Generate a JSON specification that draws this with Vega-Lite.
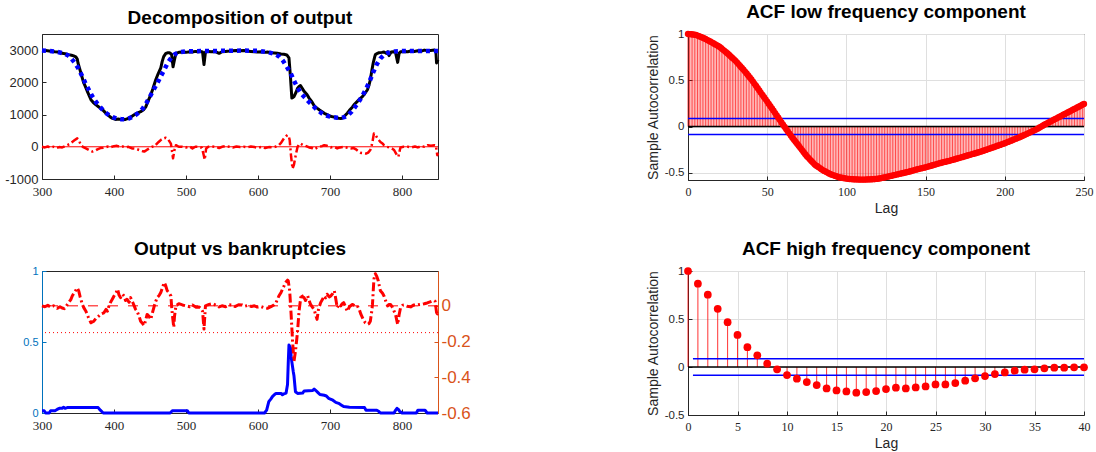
{
  "$schema": "https://vega.github.io/schema/vega-lite/v6.json",
  "padding": {"left": 4, "top": 2, "right": 5, "bottom": 5},
  "background": "white",
  "columns": 2,
  "spacing": {"row": 91, "column": 250},
  "bounds": "flush",
  "config": {
    "font": "Liberation Sans",
    "view": {"stroke": "#262626", "strokeWidth": 1},
    "axis": {"domainColor": "#262626", "tickColor": "#262626", "labelColor": "#262626", "titleColor": "#262626", "tickSize": -4, "grid": false, "labelOverlap": false, "labelFlush": false, "titleFontWeight": "normal", "titleFont": "Liberation Sans", "titleFontSize": 14, "titlePadding": 4, "labelExpr": "replace(datum.label, '\u2212', '-')"},
    "axisX": {"labelFont": "Liberation Serif", "labelFontSize": 13, "labelPadding": 10},
    "axisY": {"labelFont": "Liberation Sans", "labelFontSize": 12, "labelPadding": 8},
    "title": {"font": "Liberation Sans", "fontSize": 19, "fontWeight": "bold", "color": "#000000", "offset": 6}
  },
  "datasets": {
    "output": [
      {"t":300,"v":2990},{"t":305,"v":2985},{"t":310,"v":2975},{"t":314,"v":2960},{"t":318,"v":2950},{"t":322,"v":2945},{"t":326,"v":2920},{"t":328,"v":2900},{"t":332,"v":2890},{"t":337,"v":2860},{"t":341,"v":2840},{"t":344,"v":2820},{"t":347,"v":2790},{"t":349,"v":2720},{"t":350,"v":2600},{"t":352,"v":2450},{"t":354,"v":2290},{"t":356,"v":2130},{"t":358,"v":1980},{"t":360,"v":1880},{"t":363,"v":1720},{"t":366,"v":1560},{"t":368,"v":1460},{"t":371,"v":1380},{"t":375,"v":1300},{"t":378,"v":1250},{"t":381,"v":1200},{"t":385,"v":1130},{"t":388,"v":1060},{"t":391,"v":1000},{"t":395,"v":920},{"t":398,"v":880},{"t":402,"v":850},{"t":406,"v":860},{"t":409,"v":850},{"t":413,"v":845},{"t":416,"v":850},{"t":420,"v":880},{"t":423,"v":920},{"t":427,"v":980},{"t":430,"v":1020},{"t":434,"v":1060},{"t":437,"v":1090},{"t":441,"v":1150},{"t":444,"v":1230},{"t":447,"v":1400},{"t":451,"v":1610},{"t":454,"v":1800},{"t":458,"v":2080},{"t":461,"v":2250},{"t":465,"v":2450},{"t":467,"v":2650},{"t":469,"v":2800},{"t":472,"v":2900},{"t":475,"v":2920},{"t":477,"v":2920},{"t":480,"v":2870},{"t":482,"v":2480},{"t":484,"v":2700},{"t":486,"v":2900},{"t":490,"v":2930},{"t":495,"v":2940},{"t":500,"v":2930},{"t":505,"v":2950},{"t":509,"v":2940},{"t":513,"v":2960},{"t":517,"v":2950},{"t":520,"v":2960},{"t":523,"v":2940},{"t":525,"v":2550},{"t":527,"v":2940},{"t":531,"v":2960},{"t":535,"v":2950},{"t":540,"v":2960},{"t":546,"v":2900},{"t":550,"v":2950},{"t":555,"v":2960},{"t":560,"v":2970},{"t":564,"v":2980},{"t":570,"v":2990},{"t":575,"v":2980},{"t":580,"v":2990},{"t":585,"v":2970},{"t":590,"v":2960},{"t":595,"v":2950},{"t":599,"v":2940},{"t":605,"v":2950},{"t":610,"v":2930},{"t":613,"v":2940},{"t":618,"v":2920},{"t":623,"v":2910},{"t":627,"v":2900},{"t":632,"v":2880},{"t":636,"v":2870},{"t":640,"v":2850},{"t":643,"v":2760},{"t":645,"v":2190},{"t":647,"v":1510},{"t":649,"v":1540},{"t":650,"v":1560},{"t":653,"v":1700},{"t":655,"v":1820},{"t":657,"v":1870},{"t":659,"v":1900},{"t":661,"v":1830},{"t":664,"v":1720},{"t":668,"v":1620},{"t":671,"v":1510},{"t":675,"v":1390},{"t":678,"v":1270},{"t":682,"v":1200},{"t":685,"v":1150},{"t":689,"v":1090},{"t":692,"v":1040},{"t":696,"v":1000},{"t":699,"v":960},{"t":702,"v":940},{"t":706,"v":920},{"t":709,"v":900},{"t":712,"v":885},{"t":715,"v":880},{"t":717,"v":885},{"t":720,"v":950},{"t":724,"v":1040},{"t":727,"v":1130},{"t":731,"v":1230},{"t":734,"v":1320},{"t":738,"v":1410},{"t":741,"v":1480},{"t":745,"v":1560},{"t":748,"v":1640},{"t":752,"v":1770},{"t":754,"v":1900},{"t":756,"v":2080},{"t":758,"v":2350},{"t":760,"v":2600},{"t":762,"v":2780},{"t":763,"v":2860},{"t":766,"v":2900},{"t":768,"v":2920},{"t":772,"v":2930},{"t":775,"v":2940},{"t":778,"v":2900},{"t":780,"v":2950},{"t":782,"v":2830},{"t":785,"v":2940},{"t":788,"v":2950},{"t":791,"v":2930},{"t":794,"v":2620},{"t":796,"v":2900},{"t":798,"v":2950},{"t":803,"v":2960},{"t":808,"v":2950},{"t":812,"v":2970},{"t":817,"v":2960},{"t":822,"v":2980},{"t":826,"v":2960},{"t":831,"v":3000},{"t":836,"v":2980},{"t":840,"v":2990},{"t":845,"v":3000},{"t":847,"v":2980},{"t":848,"v":2600},{"t":850,"v":2700}
    ],
    "trend": [
      {"t":300,"v":2990},{"t":310,"v":2975},{"t":320,"v":2950},{"t":330,"v":2900},{"t":336,"v":2840},{"t":340,"v":2760},{"t":345,"v":2620},{"t":350,"v":2450},{"t":355,"v":2230},{"t":360,"v":1990},{"t":365,"v":1770},{"t":370,"v":1560},{"t":375,"v":1390},{"t":380,"v":1250},{"t":385,"v":1130},{"t":390,"v":1030},{"t":395,"v":955},{"t":400,"v":905},{"t":405,"v":870},{"t":410,"v":855},{"t":415,"v":855},{"t":420,"v":875},{"t":425,"v":920},{"t":430,"v":985},{"t":435,"v":1070},{"t":440,"v":1190},{"t":445,"v":1360},{"t":450,"v":1560},{"t":455,"v":1770},{"t":460,"v":1970},{"t":465,"v":2190},{"t":470,"v":2400},{"t":475,"v":2620},{"t":480,"v":2780},{"t":485,"v":2880},{"t":490,"v":2930},{"t":500,"v":2960},{"t":520,"v":2970},{"t":540,"v":2975},{"t":560,"v":2980},{"t":580,"v":2985},{"t":600,"v":2980},{"t":610,"v":2950},{"t":615,"v":2930},{"t":620,"v":2900},{"t":625,"v":2860},{"t":630,"v":2790},{"t":635,"v":2660},{"t":640,"v":2480},{"t":645,"v":2300},{"t":650,"v":2050},{"t":655,"v":1830},{"t":660,"v":1650},{"t":665,"v":1530},{"t":670,"v":1410},{"t":675,"v":1300},{"t":680,"v":1190},{"t":685,"v":1100},{"t":690,"v":1020},{"t":695,"v":970},{"t":700,"v":935},{"t":705,"v":915},{"t":710,"v":900},{"t":715,"v":895},{"t":720,"v":920},{"t":725,"v":980},{"t":730,"v":1090},{"t":735,"v":1240},{"t":740,"v":1400},{"t":745,"v":1580},{"t":750,"v":1790},{"t":755,"v":2030},{"t":760,"v":2310},{"t":765,"v":2560},{"t":770,"v":2740},{"t":775,"v":2850},{"t":780,"v":2910},{"t":785,"v":2940},{"t":790,"v":2960},{"t":800,"v":2970},{"t":820,"v":2975},{"t":850,"v":2975}
    ],
    "cycle": [
      {"t":300,"v":0},{"t":304,"v":-20},{"t":308,"v":10},{"t":312,"v":-30},{"t":316,"v":0},{"t":320,"v":-40},{"t":324,"v":-10},{"t":328,"v":-20},{"t":332,"v":20},{"t":335,"v":50},{"t":338,"v":80},{"t":342,"v":150},{"t":345,"v":200},{"t":349,"v":260},{"t":351,"v":220},{"t":354,"v":50},{"t":358,"v":-20},{"t":361,"v":-50},{"t":365,"v":-100},{"t":370,"v":-150},{"t":374,"v":-120},{"t":377,"v":-80},{"t":381,"v":-40},{"t":385,"v":-30},{"t":388,"v":-20},{"t":392,"v":10},{"t":396,"v":-10},{"t":400,"v":20},{"t":404,"v":30},{"t":408,"v":0},{"t":412,"v":10},{"t":416,"v":-20},{"t":420,"v":0},{"t":425,"v":-50},{"t":430,"v":-60},{"t":435,"v":-100},{"t":439,"v":-130},{"t":442,"v":-150},{"t":446,"v":-90},{"t":449,"v":-50},{"t":453,"v":0},{"t":456,"v":10},{"t":459,"v":80},{"t":462,"v":150},{"t":466,"v":230},{"t":469,"v":260},{"t":472,"v":280},{"t":475,"v":240},{"t":479,"v":100},{"t":481,"v":-200},{"t":482,"v":-360},{"t":484,"v":-100},{"t":486,"v":50},{"t":490,"v":0},{"t":495,"v":0},{"t":500,"v":-20},{"t":505,"v":10},{"t":509,"v":-50},{"t":513,"v":0},{"t":518,"v":0},{"t":522,"v":-30},{"t":524,"v":-200},{"t":526,"v":-400},{"t":528,"v":-50},{"t":531,"v":0},{"t":536,"v":10},{"t":541,"v":0},{"t":546,"v":-40},{"t":550,"v":0},{"t":555,"v":20},{"t":560,"v":0},{"t":565,"v":-20},{"t":570,"v":10},{"t":575,"v":-10},{"t":580,"v":0},{"t":585,"v":-20},{"t":590,"v":10},{"t":595,"v":-10},{"t":600,"v":-30},{"t":605,"v":0},{"t":610,"v":-40},{"t":615,"v":-10},{"t":620,"v":-20},{"t":624,"v":0},{"t":629,"v":50},{"t":632,"v":120},{"t":636,"v":260},{"t":639,"v":330},{"t":641,"v":365},{"t":643,"v":300},{"t":644,"v":210},{"t":646,"v":-310},{"t":648,"v":-680},{"t":650,"v":-550},{"t":651,"v":-420},{"t":653,"v":-200},{"t":655,"v":0},{"t":657,"v":80},{"t":659,"v":100},{"t":662,"v":60},{"t":664,"v":50},{"t":667,"v":20},{"t":671,"v":-20},{"t":675,"v":-40},{"t":678,"v":-80},{"t":682,"v":-30},{"t":685,"v":0},{"t":689,"v":20},{"t":692,"v":50},{"t":696,"v":30},{"t":701,"v":-20},{"t":705,"v":0},{"t":710,"v":-50},{"t":714,"v":-20},{"t":719,"v":0},{"t":724,"v":-30},{"t":729,"v":-50},{"t":733,"v":-40},{"t":736,"v":-80},{"t":740,"v":-150},{"t":743,"v":-190},{"t":747,"v":-200},{"t":750,"v":-210},{"t":753,"v":-180},{"t":756,"v":-100},{"t":758,"v":50},{"t":759,"v":150},{"t":761,"v":415},{"t":763,"v":380},{"t":766,"v":260},{"t":770,"v":150},{"t":773,"v":100},{"t":775,"v":50},{"t":779,"v":0},{"t":782,"v":-20},{"t":786,"v":-50},{"t":789,"v":-100},{"t":791,"v":-180},{"t":793,"v":-260},{"t":795,"v":-310},{"t":797,"v":-100},{"t":798,"v":-20},{"t":802,"v":0},{"t":808,"v":0},{"t":813,"v":-20},{"t":818,"v":10},{"t":822,"v":-20},{"t":827,"v":20},{"t":831,"v":0},{"t":836,"v":50},{"t":840,"v":30},{"t":845,"v":50},{"t":847,"v":40},{"t":849,"v":-260},{"t":850,"v":-200}
    ],
    "cyclePct": [
      {"t":300,"v":0},{"t":304,"v":-0.005},{"t":308,"v":0.003},{"t":312,"v":-0.008},{"t":316,"v":0},{"t":321,"v":-0.014},{"t":325,"v":-0.005},{"t":328,"v":-0.012},{"t":331,"v":-0.016},{"t":334,"v":0},{"t":337,"v":0.018},{"t":340,"v":0.035},{"t":342,"v":0.055},{"t":345,"v":0.075},{"t":349,"v":0.10},{"t":351,"v":0.084},{"t":353,"v":0.05},{"t":356,"v":0.008},{"t":358,"v":-0.01},{"t":361,"v":-0.03},{"t":364,"v":-0.06},{"t":368,"v":-0.095},{"t":372,"v":-0.086},{"t":375,"v":-0.07},{"t":379,"v":-0.057},{"t":382,"v":-0.045},{"t":386,"v":-0.039},{"t":389,"v":-0.02},{"t":391,"v":-0.03},{"t":393,"v":0},{"t":395,"v":0.018},{"t":398,"v":0.04},{"t":400,"v":0.055},{"t":403,"v":0.075},{"t":405,"v":0.093},{"t":407,"v":0.06},{"t":409,"v":0.046},{"t":412,"v":0.065},{"t":414,"v":0.055},{"t":416,"v":0.03},{"t":418,"v":0.037},{"t":421,"v":0.02},{"t":423,"v":0.046},{"t":426,"v":0.02},{"t":428,"v":0},{"t":430,"v":-0.02},{"t":432,"v":-0.03},{"t":435,"v":-0.06},{"t":437,"v":-0.086},{"t":440,"v":-0.10},{"t":442,"v":-0.11},{"t":444,"v":-0.08},{"t":446,"v":-0.048},{"t":449,"v":-0.06},{"t":451,"v":-0.076},{"t":454,"v":-0.03},{"t":456,"v":0},{"t":458,"v":0.025},{"t":460,"v":0.046},{"t":463,"v":0.06},{"t":465,"v":0.074},{"t":468,"v":0.11},{"t":470,"v":0.13},{"t":472,"v":0.11},{"t":474,"v":0.084},{"t":477,"v":0.07},{"t":479,"v":0.055},{"t":480,"v":0},{"t":481,"v":-0.048},{"t":483,"v":-0.12},{"t":484,"v":-0.06},{"t":486,"v":0},{"t":490,"v":0.012},{"t":495,"v":0.005},{"t":500,"v":0},{"t":505,"v":-0.005},{"t":509,"v":0.005},{"t":514,"v":-0.008},{"t":518,"v":-0.006},{"t":521,"v":-0.015},{"t":523,"v":-0.03},{"t":525,"v":-0.13},{"t":527,"v":0},{"t":532,"v":0.008},{"t":537,"v":0.012},{"t":542,"v":0.003},{"t":546,"v":-0.006},{"t":550,"v":0},{"t":555,"v":-0.005},{"t":560,"v":0.006},{"t":564,"v":0.005},{"t":568,"v":-0.004},{"t":573,"v":0.006},{"t":578,"v":0.005},{"t":582,"v":-0.002},{"t":587,"v":0.003},{"t":591,"v":-0.004},{"t":595,"v":0},{"t":599,"v":-0.007},{"t":604,"v":-0.004},{"t":608,"v":-0.01},{"t":613,"v":-0.014},{"t":618,"v":-0.005},{"t":622,"v":0.005},{"t":625,"v":0.018},{"t":629,"v":0.055},{"t":632,"v":0.075},{"t":634,"v":0.093},{"t":636,"v":0.11},{"t":638,"v":0.13},{"t":641,"v":0.144},{"t":642,"v":0.14},{"t":644,"v":0.084},{"t":646,"v":-0.048},{"t":648,"v":-0.198},{"t":650,"v":-0.31},{"t":652,"v":-0.255},{"t":654,"v":-0.18},{"t":655,"v":-0.14},{"t":657,"v":-0.03},{"t":660,"v":0.065},{"t":662,"v":0.05},{"t":664,"v":0.046},{"t":666,"v":0.03},{"t":669,"v":0.055},{"t":671,"v":0.03},{"t":673,"v":0.008},{"t":676,"v":-0.01},{"t":678,"v":-0.02},{"t":680,"v":-0.05},{"t":682,"v":-0.076},{"t":684,"v":-0.02},{"t":687,"v":0.018},{"t":690,"v":0.04},{"t":692,"v":0.055},{"t":694,"v":0.045},{"t":696,"v":0.065},{"t":699,"v":0.05},{"t":701,"v":0.055},{"t":704,"v":0.07},{"t":706,"v":0.084},{"t":708,"v":0.04},{"t":710,"v":-0.01},{"t":713,"v":0.01},{"t":715,"v":0},{"t":717,"v":0.012},{"t":719,"v":0.018},{"t":722,"v":-0.01},{"t":724,"v":-0.03},{"t":727,"v":-0.005},{"t":731,"v":0.008},{"t":735,"v":0},{"t":738,"v":0},{"t":741,"v":-0.025},{"t":743,"v":-0.048},{"t":746,"v":-0.075},{"t":749,"v":-0.095},{"t":752,"v":-0.104},{"t":754,"v":-0.1},{"t":756,"v":-0.086},{"t":758,"v":-0.03},{"t":759,"v":0.008},{"t":760,"v":0.08},{"t":761,"v":0.15},{"t":763,"v":0.18},{"t":765,"v":0.165},{"t":767,"v":0.14},{"t":770,"v":0.084},{"t":773,"v":0.07},{"t":775,"v":0.055},{"t":778,"v":0.02},{"t":780,"v":0},{"t":782,"v":0.008},{"t":784,"v":0.008},{"t":787,"v":-0.01},{"t":789,"v":-0.03},{"t":791,"v":-0.048},{"t":794,"v":-0.104},{"t":796,"v":-0.05},{"t":798,"v":-0.01},{"t":801,"v":0.004},{"t":803,"v":0.005},{"t":807,"v":-0.002},{"t":812,"v":-0.006},{"t":816,"v":0.004},{"t":821,"v":0.005},{"t":826,"v":0.008},{"t":831,"v":0.012},{"t":835,"v":0.016},{"t":840,"v":0.024},{"t":844,"v":0.03},{"t":846,"v":0.025},{"t":848,"v":-0.038},{"t":849,"v":-0.045},{"t":850,"v":-0.03}
    ],
    "bankr": [
      {"t":300,"v":0.016},{"t":303,"v":0.016},{"t":305,"v":0},{"t":310,"v":0},{"t":312,"v":0.016},{"t":318,"v":0.016},{"t":321,"v":0.025},{"t":324,"v":0.033},{"t":328,"v":0.033},{"t":330,"v":0.04},{"t":332,"v":0.033},{"t":335,"v":0.038},{"t":378,"v":0.038},{"t":381,"v":0.02},{"t":385,"v":0},{"t":478,"v":0},{"t":481,"v":0.016},{"t":502,"v":0.016},{"t":504,"v":0},{"t":609,"v":0},{"t":612,"v":0.02},{"t":615,"v":0.08},{"t":618,"v":0.1},{"t":620,"v":0.115},{"t":623,"v":0.13},{"t":625,"v":0.138},{"t":632,"v":0.138},{"t":634,"v":0.128},{"t":636,"v":0.135},{"t":639,"v":0.14},{"t":641,"v":0.2},{"t":642,"v":0.35},{"t":643,"v":0.479},{"t":645,"v":0.46},{"t":646,"v":0.4},{"t":647,"v":0.36},{"t":649,"v":0.29},{"t":650,"v":0.26},{"t":652,"v":0.15},{"t":655,"v":0.138},{"t":662,"v":0.14},{"t":664,"v":0.155},{"t":676,"v":0.158},{"t":678,"v":0.169},{"t":680,"v":0.16},{"t":683,"v":0.145},{"t":686,"v":0.13},{"t":692,"v":0.125},{"t":695,"v":0.12},{"t":698,"v":0.103},{"t":704,"v":0.09},{"t":708,"v":0.075},{"t":712,"v":0.068},{"t":716,"v":0.055},{"t":719,"v":0.045},{"t":727,"v":0.04},{"t":748,"v":0.038},{"t":750,"v":0.019},{"t":765,"v":0.019},{"t":768,"v":0.01},{"t":770,"v":0},{"t":789,"v":0},{"t":791,"v":0.019},{"t":793,"v":0.033},{"t":795,"v":0.025},{"t":797,"v":0.01},{"t":800,"v":0},{"t":820,"v":0},{"t":822,"v":0.019},{"t":832,"v":0.019},{"t":835,"v":0},{"t":850,"v":0}
    ],
    "acfLow": [
      {"l":0,"r":1.000},{"l":1,"r":0.999},{"l":2,"r":0.997},{"l":3,"r":0.995},{"l":4,"r":0.993},{"l":5,"r":0.990},{"l":6,"r":0.983},{"l":7,"r":0.976},{"l":8,"r":0.969},{"l":9,"r":0.962},
      {"l":10,"r":0.955},{"l":11,"r":0.946},{"l":12,"r":0.937},{"l":13,"r":0.928},{"l":14,"r":0.919},{"l":15,"r":0.910},{"l":16,"r":0.900},{"l":17,"r":0.890},{"l":18,"r":0.880},{"l":19,"r":0.870},
      {"l":20,"r":0.860},{"l":21,"r":0.846},{"l":22,"r":0.832},{"l":23,"r":0.818},{"l":24,"r":0.804},{"l":25,"r":0.790},{"l":26,"r":0.774},{"l":27,"r":0.758},{"l":28,"r":0.742},{"l":29,"r":0.726},
      {"l":30,"r":0.710},{"l":31,"r":0.691},{"l":32,"r":0.672},{"l":33,"r":0.653},{"l":34,"r":0.634},{"l":35,"r":0.615},{"l":36,"r":0.594},{"l":37,"r":0.573},{"l":38,"r":0.552},{"l":39,"r":0.531},
      {"l":40,"r":0.510},{"l":41,"r":0.486},{"l":42,"r":0.462},{"l":43,"r":0.438},{"l":44,"r":0.414},{"l":45,"r":0.390},{"l":46,"r":0.366},{"l":47,"r":0.342},{"l":48,"r":0.318},{"l":49,"r":0.294},
      {"l":50,"r":0.270},{"l":51,"r":0.245},{"l":52,"r":0.220},{"l":53,"r":0.196},{"l":54,"r":0.171},{"l":55,"r":0.146},{"l":56,"r":0.121},{"l":57,"r":0.096},{"l":58,"r":0.070},{"l":59,"r":0.045},
      {"l":60,"r":0.020},{"l":61,"r":-0.004},{"l":62,"r":-0.028},{"l":63,"r":-0.052},{"l":64,"r":-0.076},{"l":65,"r":-0.100},{"l":66,"r":-0.122},{"l":67,"r":-0.144},{"l":68,"r":-0.166},{"l":69,"r":-0.188},
      {"l":70,"r":-0.210},{"l":71,"r":-0.232},{"l":72,"r":-0.254},{"l":73,"r":-0.276},{"l":74,"r":-0.298},{"l":75,"r":-0.320},{"l":76,"r":-0.338},{"l":77,"r":-0.356},{"l":78,"r":-0.374},{"l":79,"r":-0.392},
      {"l":80,"r":-0.410},{"l":81,"r":-0.422},{"l":82,"r":-0.434},{"l":83,"r":-0.446},{"l":84,"r":-0.458},{"l":85,"r":-0.470},{"l":86,"r":-0.479},{"l":87,"r":-0.488},{"l":88,"r":-0.497},{"l":89,"r":-0.506},
      {"l":90,"r":-0.515},{"l":91,"r":-0.521},{"l":92,"r":-0.527},{"l":93,"r":-0.533},{"l":94,"r":-0.539},{"l":95,"r":-0.545},{"l":96,"r":-0.549},{"l":97,"r":-0.552},{"l":98,"r":-0.555},{"l":99,"r":-0.559},
      {"l":100,"r":-0.562},{"l":101,"r":-0.564},{"l":102,"r":-0.566},{"l":103,"r":-0.567},{"l":104,"r":-0.569},{"l":105,"r":-0.570},{"l":106,"r":-0.571},{"l":107,"r":-0.571},{"l":108,"r":-0.572},{"l":109,"r":-0.572},
      {"l":110,"r":-0.572},{"l":111,"r":-0.572},{"l":112,"r":-0.572},{"l":113,"r":-0.571},{"l":114,"r":-0.571},{"l":115,"r":-0.570},{"l":116,"r":-0.569},{"l":117,"r":-0.568},{"l":118,"r":-0.566},{"l":119,"r":-0.565},
      {"l":120,"r":-0.563},{"l":121,"r":-0.560},{"l":122,"r":-0.556},{"l":123,"r":-0.552},{"l":124,"r":-0.549},{"l":125,"r":-0.545},{"l":126,"r":-0.541},{"l":127,"r":-0.537},{"l":128,"r":-0.533},{"l":129,"r":-0.529},
      {"l":130,"r":-0.525},{"l":131,"r":-0.521},{"l":132,"r":-0.517},{"l":133,"r":-0.513},{"l":134,"r":-0.509},{"l":135,"r":-0.505},{"l":136,"r":-0.501},{"l":137,"r":-0.497},{"l":138,"r":-0.493},{"l":139,"r":-0.489},
      {"l":140,"r":-0.485},{"l":141,"r":-0.480},{"l":142,"r":-0.475},{"l":143,"r":-0.470},{"l":144,"r":-0.465},{"l":145,"r":-0.460},{"l":146,"r":-0.456},{"l":147,"r":-0.452},{"l":148,"r":-0.448},{"l":149,"r":-0.444},
      {"l":150,"r":-0.440},{"l":151,"r":-0.435},{"l":152,"r":-0.430},{"l":153,"r":-0.425},{"l":154,"r":-0.420},{"l":155,"r":-0.415},{"l":156,"r":-0.410},{"l":157,"r":-0.405},{"l":158,"r":-0.400},{"l":159,"r":-0.395},
      {"l":160,"r":-0.390},{"l":161,"r":-0.386},{"l":162,"r":-0.382},{"l":163,"r":-0.378},{"l":164,"r":-0.374},{"l":165,"r":-0.370},{"l":166,"r":-0.365},{"l":167,"r":-0.360},{"l":168,"r":-0.355},{"l":169,"r":-0.350},
      {"l":170,"r":-0.345},{"l":171,"r":-0.340},{"l":172,"r":-0.335},{"l":173,"r":-0.330},{"l":174,"r":-0.325},{"l":175,"r":-0.320},{"l":176,"r":-0.315},{"l":177,"r":-0.310},{"l":178,"r":-0.305},{"l":179,"r":-0.300},
      {"l":180,"r":-0.295},{"l":181,"r":-0.290},{"l":182,"r":-0.285},{"l":183,"r":-0.280},{"l":184,"r":-0.275},{"l":185,"r":-0.270},{"l":186,"r":-0.264},{"l":187,"r":-0.258},{"l":188,"r":-0.252},{"l":189,"r":-0.246},
      {"l":190,"r":-0.240},{"l":191,"r":-0.234},{"l":192,"r":-0.228},{"l":193,"r":-0.222},{"l":194,"r":-0.216},{"l":195,"r":-0.210},{"l":196,"r":-0.204},{"l":197,"r":-0.198},{"l":198,"r":-0.192},{"l":199,"r":-0.186},
      {"l":200,"r":-0.180},{"l":201,"r":-0.173},{"l":202,"r":-0.166},{"l":203,"r":-0.159},{"l":204,"r":-0.152},{"l":205,"r":-0.145},{"l":206,"r":-0.138},{"l":207,"r":-0.131},{"l":208,"r":-0.124},{"l":209,"r":-0.117},
      {"l":210,"r":-0.110},{"l":211,"r":-0.102},{"l":212,"r":-0.094},{"l":213,"r":-0.086},{"l":214,"r":-0.078},{"l":215,"r":-0.070},{"l":216,"r":-0.062},{"l":217,"r":-0.054},{"l":218,"r":-0.046},{"l":219,"r":-0.038},
      {"l":220,"r":-0.030},{"l":221,"r":-0.020},{"l":222,"r":-0.010},{"l":223,"r":0.000},{"l":224,"r":0.010},{"l":225,"r":0.020},{"l":226,"r":0.029},{"l":227,"r":0.038},{"l":228,"r":0.047},{"l":229,"r":0.056},
      {"l":230,"r":0.065},{"l":231,"r":0.074},{"l":232,"r":0.083},{"l":233,"r":0.092},{"l":234,"r":0.101},{"l":235,"r":0.110},{"l":236,"r":0.119},{"l":237,"r":0.128},{"l":238,"r":0.137},{"l":239,"r":0.146},
      {"l":240,"r":0.155},{"l":241,"r":0.164},{"l":242,"r":0.173},{"l":243,"r":0.182},{"l":244,"r":0.191},{"l":245,"r":0.200},{"l":246,"r":0.209},{"l":247,"r":0.218},{"l":248,"r":0.227},{"l":249,"r":0.236},
      {"l":250,"r":0.245}
    ],
    "acfHigh": [
      {"l":0,"r":1.0},{"l":1,"r":0.868},{"l":2,"r":0.753},{"l":3,"r":0.606},{"l":4,"r":0.467},{"l":5,"r":0.334},{"l":6,"r":0.206},{"l":7,"r":0.122},{"l":8,"r":0.035},{"l":9,"r":-0.024},
      {"l":10,"r":-0.084},{"l":11,"r":-0.122},{"l":12,"r":-0.157},{"l":13,"r":-0.188},{"l":14,"r":-0.223},{"l":15,"r":-0.244},{"l":16,"r":-0.254},{"l":17,"r":-0.268},{"l":18,"r":-0.261},{"l":19,"r":-0.251},
      {"l":20,"r":-0.230},{"l":21,"r":-0.216},{"l":22,"r":-0.223},{"l":23,"r":-0.213},{"l":24,"r":-0.202},{"l":25,"r":-0.181},{"l":26,"r":-0.181},{"l":27,"r":-0.167},{"l":28,"r":-0.143},{"l":29,"r":-0.118},
      {"l":30,"r":-0.094},{"l":31,"r":-0.073},{"l":32,"r":-0.056},{"l":33,"r":-0.038},{"l":34,"r":-0.028},{"l":35,"r":-0.024},{"l":36,"r":-0.014},{"l":37,"r":-0.007},{"l":38,"r":-0.007},{"l":39,"r":-0.003},
      {"l":40,"r":-0.003}
    ],
    "boundsLow": [{"l":0,"l2":250,"r":0.086},{"l":0,"l2":250,"r":-0.086}],
    "boundsHigh": [{"l":0.5,"l2":40,"r":0.086},{"l":0.5,"l2":40,"r":-0.086}],
    "zero": [{"l":0,"l2":250,"r":0}],
    "zeroHigh": [{"l":0,"l2":40,"r":0}],
    "ref": [{"t":300,"v":0},{"t":850,"v":0}],
    "refPct": [{"v":0}],
    "thresh": [{"v":-0.15}]
  },
  "concat": [
    {
      "title": "Decomposition of output",
      "width": 396,
      "height": 145,
      "encoding": {
        "x": {"field": "t", "type": "quantitative", "title": null, "scale": {"domain": [300, 850], "nice": false, "zero": false}, "axis": {"values": [300, 400, 500, 600, 700, 800], "format": "d", "labelOverlap": false}},
        "y": {"field": "v", "type": "quantitative", "title": null, "scale": {"domain": [-1000, 3500], "nice": false, "zero": false}, "axis": {"values": [-1000, 0, 1000, 2000, 3000], "format": "d", "labelFontSize": 13, "labelOverlap": false, "labelSeparation": 0}}
      },
      "layer": [
        {
          "data": {"name": "output"},
          "mark": {"type": "line", "color": "#000000", "strokeWidth": 3, "strokeJoin": "round"}
        },
        {
          "data": {"name": "trend"},
          "mark": {"type": "line", "color": "#0000ff", "strokeWidth": 4.5, "strokeDash": [4, 4], "strokeJoin": "round"}
        },
        {
          "data": {"name": "ref"},
          "mark": {"type": "line", "color": "#ff0000", "strokeWidth": 1}
        },
        {
          "data": {"name": "cycle"},
          "mark": {"type": "line", "color": "#ff0000", "strokeWidth": 2.5, "strokeDash": [8, 3, 2, 3], "strokeJoin": "round"}
        }
      ]
    },
    {
      "title": "ACF low frequency component",
      "width": 396,
      "height": 146,
      "layer": [
        {
          "data": {"name": "acfLow"},
          "mark": {"type": "rule", "color": "#ff0000", "strokeWidth": 0.7},
          "encoding": {
            "x": {"field": "l", "type": "quantitative", "title": "Lag", "scale": {"domain": [0, 250], "nice": false}, "axis": {"values": [0, 50, 100, 150, 200, 250], "format": "d", "labelFontSize": 12, "grid": true, "gridColor": "#dfdfdf"}},
            "y": {"field": "r", "type": "quantitative", "title": "Sample Autocorrelation", "scale": {"domain": [-0.577, 1], "nice": false, "zero": false}, "axis": {"values": [-0.5, 0, 0.5, 1], "format": "~g", "labelFontSize": 11.5, "grid": true, "gridColor": "#dfdfdf"}},
            "y2": {"datum": 0}
          }
        },
        {
          "data": {"name": "zero"},
          "mark": {"type": "rule", "color": "#000000", "strokeWidth": 1.5},
          "encoding": {
            "x": {"field": "l", "type": "quantitative"},
            "x2": {"field": "l2"},
            "y": {"field": "r", "type": "quantitative"}
          }
        },
        {
          "data": {"name": "boundsLow"},
          "mark": {"type": "rule", "color": "#0000ff", "strokeWidth": 1.5},
          "encoding": {
            "x": {"field": "l", "type": "quantitative"},
            "x2": {"field": "l2"},
            "y": {"field": "r", "type": "quantitative"}
          }
        },
        {
          "data": {"name": "acfLow"},
          "mark": {"type": "circle", "color": "#ff0000", "size": 40, "opacity": 1},
          "encoding": {
            "x": {"field": "l", "type": "quantitative"},
            "y": {"field": "r", "type": "quantitative"}
          }
        }
      ]
    },
    {
      "title": "Output vs bankruptcies",
      "width": 396,
      "height": 142,
      "resolve": {"scale": {"y": "independent"}},
      "layer": [
        {
          "data": {"name": "bankr"},
          "mark": {"type": "line", "color": "#0000ff", "strokeWidth": 3, "strokeJoin": "round"},
          "encoding": {
            "x": {"field": "t", "type": "quantitative", "title": null, "scale": {"domain": [300, 850], "nice": false, "zero": false}, "axis": {"values": [300, 400, 500, 600, 700, 800], "format": "d"}},
            "y": {"field": "v", "type": "quantitative", "title": null, "scale": {"domain": [0, 1], "nice": false}, "axis": {"orient": "left", "values": [0, 0.5, 1], "format": "~g", "labelFontSize": 11, "labelColor": "#0072BD", "domainColor": "#0072BD", "tickColor": "#0072BD"}}
          }
        },
        {
          "layer": [
            {
              "data": {"name": "refPct"},
              "mark": {"type": "rule", "color": "#ff0000", "strokeWidth": 1, "strokeDash": [10, 10]},
              "encoding": {
                "y": {"field": "v", "type": "quantitative", "title": null, "scale": {"domain": [-0.6, 0.195], "nice": false, "zero": false}, "axis": {"orient": "right", "values": [-0.6, -0.4, -0.2, 0], "format": "~g", "labelFontSize": 17, "labelColor": "#D95319", "domainColor": "#D95319", "tickColor": "#D95319", "labelPadding": 7}}
              }
            },
            {
              "data": {"name": "thresh"},
              "mark": {"type": "rule", "color": "#ff0000", "strokeWidth": 1, "strokeDash": [1, 3]},
              "encoding": {"y": {"field": "v", "type": "quantitative", "title": null}}
            },
            {
              "data": {"name": "cyclePct"},
              "mark": {"type": "line", "color": "#ff0000", "strokeWidth": 3, "strokeDash": [9, 3, 2, 3], "strokeJoin": "round"},
              "encoding": {
                "x": {"field": "t", "type": "quantitative", "title": null},
                "y": {"field": "v", "type": "quantitative", "title": null}
              }
            }
          ]
        }
      ]
    },
    {
      "title": "ACF high frequency component",
      "width": 396,
      "height": 144,
      "layer": [
        {
          "data": {"name": "acfHigh"},
          "mark": {"type": "rule", "color": "#ff0000", "strokeWidth": 1, "opacity": 0.8},
          "encoding": {
            "x": {"field": "l", "type": "quantitative", "title": "Lag", "scale": {"domain": [0, 40], "nice": false}, "axis": {"values": [0, 5, 10, 15, 20, 25, 30, 35, 40], "format": "d", "labelFontSize": 12, "grid": true, "gridColor": "#dfdfdf"}},
            "y": {"field": "r", "type": "quantitative", "title": "Sample Autocorrelation", "scale": {"domain": [-0.5, 1], "nice": false, "zero": false}, "axis": {"values": [-0.5, 0, 0.5, 1], "format": "~g", "labelFontSize": 11.5, "grid": true, "gridColor": "#dfdfdf"}},
            "y2": {"datum": 0}
          }
        },
        {
          "data": {"name": "zeroHigh"},
          "mark": {"type": "rule", "color": "#000000", "strokeWidth": 1.5},
          "encoding": {
            "x": {"field": "l", "type": "quantitative"},
            "x2": {"field": "l2"},
            "y": {"field": "r", "type": "quantitative"}
          }
        },
        {
          "data": {"name": "boundsHigh"},
          "mark": {"type": "rule", "color": "#0000ff", "strokeWidth": 1.5},
          "encoding": {
            "x": {"field": "l", "type": "quantitative"},
            "x2": {"field": "l2"},
            "y": {"field": "r", "type": "quantitative"}
          }
        },
        {
          "data": {"name": "acfHigh"},
          "mark": {"type": "circle", "color": "#ff0000", "size": 60, "opacity": 1},
          "encoding": {
            "x": {"field": "l", "type": "quantitative"},
            "y": {"field": "r", "type": "quantitative"}
          }
        }
      ]
    }
  ]
}
